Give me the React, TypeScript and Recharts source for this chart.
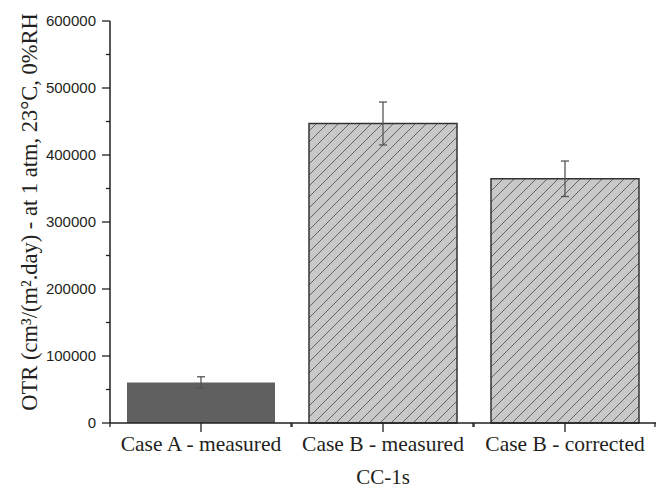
import React from "react";
import { BarChart, Bar, XAxis, YAxis, Cell, ErrorBar, Label } from "recharts";

const categories = ["Case A - measured", "Case B - measured", "Case B - corrected"];
const otrValues = [60500, 447000, 364500];
const otrErrors = [8500, 32000, 26500];
const yTicks = [
  0, 50000, 100000, 150000, 200000, 250000, 300000, 350000, 400000, 450000, 500000, 550000, 600000,
];
const barFills = ["#606060", "url(#hatch)", "url(#hatch)"];

const data = categories.map((name, i) => ({ name, otr: otrValues[i], err: otrErrors[i] }));

const INK = "#231f20";
const SERIF = "'Liberation Serif', 'Times New Roman', serif";
const SANS = "'Liberation Sans', Arial, sans-serif";

function YTick(props: any) {
  const { x, y, payload } = props;
  const ax = x + 14; // tickSize + tickMargin
  const major = payload.value % 100000 === 0;
  return (
    <g>
      <line x1={ax - (major ? 8 : 4)} x2={ax} y1={y} y2={y} stroke={INK} strokeWidth={1.3} />
      {major && (
        <text x={x} y={y} dy="0.36em" textAnchor="end" fontFamily={SANS} fontSize={15} fill={INK}>
          {payload.value}
        </text>
      )}
    </g>
  );
}

function XTick(props: any) {
  const { x, y, payload, width, visibleTicksCount } = props;
  const ay = y - 13; // tickSize + tickMargin
  const half = width && visibleTicksCount ? width / visibleTicksCount / 2 : 91;
  return (
    <g>
      <line x1={x} x2={x} y1={ay} y2={ay + 9} stroke={INK} strokeWidth={1.3} />
      <line x1={x - half} x2={x - half} y1={ay} y2={ay + 4} stroke={INK} strokeWidth={1.3} />
      <line x1={x + half - 1} x2={x + half - 1} y1={ay} y2={ay + 4} stroke={INK} strokeWidth={1.3} />
      <text x={x} y={y} dy="0.72em" textAnchor="middle" fontFamily={SERIF} fontSize={21.5} fill={INK}>
        {payload.value}
      </text>
    </g>
  );
}

export default function App() {
  return (
    <div style={{ position: "absolute", left: 0, top: 0 }}>
      <BarChart
        width={656}
        height={490}
        data={data}
        margin={{ top: 21, right: 0, left: 0, bottom: 0 }}
        barCategoryGap={17}
      >
        <defs>
          <pattern id="hatch" patternUnits="userSpaceOnUse" width={11} height={11}>
            <rect width={11} height={11} fill="#c8c8c8" />
            <path d="M0,11 L11,0 M-3,3 L3,-3 M8,14 L14,8" stroke="#4a4a4a" strokeWidth={0.8} />
          </pattern>
        </defs>
        <XAxis
          dataKey="name"
          height={67}
          interval={0}
          tickLine={false}
          tickSize={9}
          tickMargin={4}
          tick={<XTick />}
          axisLine={{ stroke: INK, strokeWidth: 1.5 }}
        >
          <Label
            content={(p: any) => {
              const vb = p.viewBox;
              return (
                <text
                  x={vb.x + vb.width / 2}
                  y={vb.y + 61}
                  textAnchor="middle"
                  fontFamily={SERIF}
                  fontSize={21}
                  fill={INK}
                >
                  CC-1s
                </text>
              );
            }}
          />
        </XAxis>
        <YAxis
          width={110}
          domain={[0, 600000]}
          ticks={yTicks}
          interval={0}
          tickLine={false}
          tickSize={8}
          tickMargin={6}
          tick={<YTick />}
          axisLine={{ stroke: INK, strokeWidth: 1.5 }}
        >
          <Label
            content={(p: any) => {
              const vb = p.viewBox;
              const cx = vb.x + 29;
              const cy = vb.y + vb.height / 2 - 10;
              return (
                <text
                  x={cx}
                  y={cy}
                  transform={`rotate(-90, ${cx}, ${cy})`}
                  textAnchor="middle"
                  dominantBaseline="central"
                  fontFamily={SERIF}
                  fontSize={22.5}
                  fill={INK}
                >
                  OTR (cm³/(m².day) - at 1 atm, 23°C, 0%RH
                </text>
              );
            }}
          />
        </YAxis>
        <Bar dataKey="otr" isAnimationActive={false}>
          {data.map((d, i) => (
            <Cell
              key={d.name}
              fill={barFills[i]}
              stroke={i === 0 ? "#606060" : "#333333"}
              strokeWidth={i === 0 ? 0 : 1.5}
            />
          ))}
          <ErrorBar dataKey="err" width={4} stroke="#555555" strokeWidth={1.3} direction="y" />
        </Bar>
      </BarChart>
    </div>
  );
}
